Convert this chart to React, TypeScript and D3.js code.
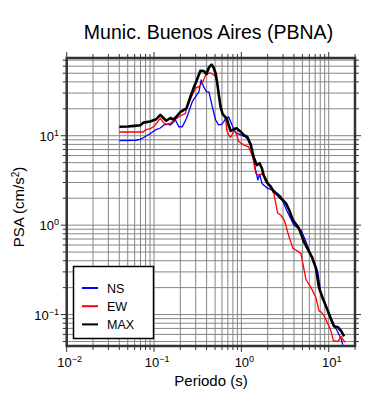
import * as d3 from "d3";
import React from "react";

// Spectra (period in s, PSA in cm/s^2)
const nsSeries: [number, number][] = [
  [0.04, 8.8], [0.061, 8.9], [0.0696, 9.1], [0.0753, 9.5], [0.0907, 10.6],
  [0.1035, 11.6], [0.118, 12.2], [0.135, 13.6], [0.154, 13.2], [0.176, 15.0],
  [0.192, 12.6], [0.211, 12.6], [0.235, 15.6], [0.274, 24], [0.326, 31],
  [0.347, 42], [0.369, 35.4], [0.399, 31], [0.425, 31], [0.465, 21],
  [0.507, 15], [0.548, 13.2], [0.594, 13.4], [0.627, 14.3], [0.661, 15.6],
  [0.714, 16.3], [0.815, 12.0], [0.861, 10.8], [0.982, 10.2], [1.12, 9.7],
  [1.28, 8.2], [1.38, 5.35], [1.54, 3.2], [1.62, 3.7], [1.72, 2.93],
  [2.0, 2.57], [2.35, 2.45], [2.83, 2.1], [3.3, 1.47], [4.0, 1.0],
  [4.81, 0.88], [5.5, 0.65], [6.27, 0.46], [7.5, 0.3], [8.15, 0.17],
  [9.55, 0.116], [11.0, 0.079], [12.5, 0.066], [13.8, 0.054], [14.5, 0.046],
];

const ewSeries: [number, number][] = [
  [0.04, 11.0], [0.0753, 11.0], [0.0794, 11.6], [0.0907, 12.0], [0.0989, 12.6],
  [0.118, 15.6], [0.135, 13.2], [0.154, 13.8], [0.192, 16.3], [0.229, 17.8],
  [0.235, 20.2], [0.274, 28.6], [0.299, 34], [0.326, 35.4], [0.356, 38.5],
  [0.389, 47.8], [0.425, 50], [0.456, 50], [0.507, 46], [0.548, 32],
  [0.578, 22], [0.61, 17], [0.661, 16.3], [0.678, 11.6], [0.714, 10.2],
  [0.754, 9.6], [0.815, 11.1], [0.861, 11.1], [0.931, 8.6], [1.06, 7.9],
  [1.21, 7.5], [1.35, 5.8], [1.46, 3.8], [1.58, 3.6], [1.76, 3.8],
  [1.9, 3.06], [2.06, 2.8], [2.17, 2.6], [2.35, 2.26], [2.6, 1.37],
  [2.83, 1.29], [3.1, 1.14], [3.5, 0.75], [3.9, 0.55], [4.3, 0.52],
  [4.81, 0.48], [5.5, 0.245], [6.27, 0.2], [7.15, 0.155], [7.74, 0.11],
  [8.3, 0.106], [9.0, 0.094], [10.6, 0.066], [11.3, 0.051], [12.8, 0.05],
  [13.8, 0.057], [15.4, 0.049],
];

const maxSeries: [number, number][] = [
  [0.04, 12.6], [0.05, 12.7], [0.06, 12.9], [0.0696, 13.1], [0.0753, 14.0],
  [0.09, 14.4], [0.106, 15.3], [0.118, 17.1], [0.128, 15.8], [0.138, 14.7],
  [0.154, 15.8], [0.167, 15.2], [0.18, 16.3], [0.2, 18.4], [0.22, 19.5],
  [0.235, 20.2], [0.261, 27.3], [0.28, 33], [0.299, 38.5], [0.32, 46],
  [0.34, 53.4], [0.369, 53], [0.399, 49], [0.425, 58], [0.456, 62.4],
  [0.48, 58], [0.507, 50], [0.53, 38.5], [0.548, 30], [0.578, 21],
  [0.61, 17.5], [0.647, 16.3], [0.678, 15.6], [0.714, 13.2], [0.754, 11.3],
  [0.815, 11.8], [0.88, 12.1], [0.982, 11.1], [1.06, 10.2], [1.17, 9.7],
  [1.28, 7.9], [1.38, 5.8], [1.5, 4.7], [1.62, 4.9], [1.72, 4.3],
  [1.8, 3.6], [2.0, 2.93], [2.17, 2.7], [2.35, 2.37], [2.62, 2.15],
  [2.97, 1.91], [3.24, 1.75], [3.5, 1.5], [3.89, 1.14], [4.56, 0.92],
  [5.21, 0.65], [6.43, 0.44], [7.15, 0.33], [7.74, 0.2], [8.59, 0.15],
  [9.55, 0.116], [10.6, 0.09], [11.5, 0.074], [12.8, 0.072], [13.8, 0.066],
  [15.0, 0.057],
];

const seriesNames = ["NS", "EW", "MAX"];
const seriesColors = ["#0000ff", "#ff0000", "#000000"];
const seriesWidths = [1.3, 1.3, 2.6];

const xDecades = [-2, -1, 0, 1];
const yDecades = [-1, 0, 1];
const titleText = "Munic. Buenos Aires (PBNA)";
const xTitle = "Periodo (s)";

const box = { left: 66.7, right: 355, top: 58, bottom: 346 };
const font = "'Liberation Sans', Arial, Helvetica, sans-serif";

const minorValues = (domain: number[]) => {
  const out: number[] = [];
  for (let e = -3; e <= 2; e++) {
    for (let k = 1; k <= 9; k++) {
      const v = k * Math.pow(10, e);
      if (v >= domain[0] * 0.999 && v <= domain[1] * 1.001) out.push(v);
    }
  }
  return out;
};

const Pow = ({ x, y, exp, anchor }: any) => (
  <text x={x} y={y} textAnchor={anchor} fontFamily={font} fontSize={13} fill="#000">
    10
    <tspan dy={-5} fontSize={9}>
      {exp < 0 ? "\u2212" + Math.abs(exp) : exp}
    </tspan>
  </text>
);

const App = () => {
  const xScale = d3.scaleLog().domain([0.01, 20]).range([box.left, box.right]);
  const yScale = d3.scaleLog().domain([0.0445, 74]).range([box.bottom, box.top]);

  const line = d3
    .line<[number, number]>()
    .x((d) => xScale(d[0]))
    .y((d) => yScale(d[1]));

  const xTicks = minorValues(xScale.domain());
  const yTicks = minorValues(yScale.domain());
  const isMajor = (v: number) => Math.abs(Math.log10(v) - Math.round(Math.log10(v))) < 1e-6;

  const allSeries = [nsSeries, ewSeries, maxSeries];

  return (
    <svg
      width={390}
      height={400}
      style={{ position: "absolute", left: 0, top: 0, background: "white" }}
    >
      <defs>
        <clipPath id="plot">
          <rect x={box.left} y={box.top} width={box.right - box.left} height={box.bottom - box.top} />
        </clipPath>
      </defs>

      {/* grid */}
      <g stroke="#858585" strokeWidth={1}>
        {xTicks.map((v) => (
          <line key={"gx" + v} x1={xScale(v)} x2={xScale(v)} y1={box.top} y2={box.bottom} />
        ))}
        {yTicks.map((v) => (
          <line key={"gy" + v} x1={box.left} x2={box.right} y1={yScale(v)} y2={yScale(v)} />
        ))}
      </g>

      {/* ticks on all four sides */}
      <g stroke="#333" strokeWidth={1}>
        {xTicks.map((v) => {
          const len = isMajor(v) ? 6 : 4;
          return (
            <g key={"tx" + v}>
              <line x1={xScale(v)} x2={xScale(v)} y1={box.bottom} y2={box.bottom + len} />
              <line x1={xScale(v)} x2={xScale(v)} y1={box.top} y2={box.top - len} />
            </g>
          );
        })}
        {yTicks.map((v) => {
          const len = isMajor(v) ? 6 : 4;
          return (
            <g key={"ty" + v}>
              <line x1={box.left} x2={box.left - len} y1={yScale(v)} y2={yScale(v)} />
              <line x1={box.right} x2={box.right + len} y1={yScale(v)} y2={yScale(v)} />
            </g>
          );
        })}
      </g>

      {/* curves */}
      <g clipPath="url(#plot)" fill="none" strokeLinejoin="round">
        {allSeries.map((s, i) => (
          <path key={seriesNames[i]} d={line(s) || ""} stroke={seriesColors[i]} strokeWidth={seriesWidths[i]} />
        ))}
      </g>

      {/* frame */}
      <rect
        x={box.left}
        y={box.top}
        width={box.right - box.left}
        height={box.bottom - box.top}
        fill="none"
        stroke="#333"
        strokeWidth={2.5}
      />

      {/* tick labels */}
      {xDecades.map((e) => (
        <Pow key={"lx" + e} x={xScale(Math.pow(10, e)) + 3} y={367} exp={e} anchor="middle" />
      ))}
      {yDecades.map((e) => (
        <Pow key={"ly" + e} x={59} y={yScale(Math.pow(10, e)) + 5} exp={e} anchor="end" />
      ))}

      {/* legend */}
      <g>
        <rect x={73.5} y={266.5} width={80} height={72} fill="white" stroke="#000" strokeWidth={1.5} />
        {seriesNames.map((name, i) => {
          const yy = 288 + i * 18.2;
          return (
            <g key={"lg" + name}>
              <line x1={82} x2={98} y1={yy} y2={yy} stroke={seriesColors[i]} strokeWidth={2} />
              <text x={107} y={yy + 4.5} fontFamily={font} fontSize={12.5} fill="#000">
                {name}
              </text>
            </g>
          );
        })}
      </g>

      {/* titles */}
      <text x={208.5} y={39} textAnchor="middle" fontFamily={font} fontSize={19.5} fill="#000">
        {titleText}
      </text>
      <text x={211} y={386} textAnchor="middle" fontFamily={font} fontSize={15} fill="#000">
        {xTitle}
      </text>
      <text
        transform="translate(24,207) rotate(-90)"
        textAnchor="middle"
        fontFamily={font}
        fontSize={15}
        fill="#000"
      >
        PSA (cm/s
        <tspan dy={-5} fontSize={10}>2</tspan>
        <tspan dy={5}>)</tspan>
      </text>
    </svg>
  );
};

export default App;
